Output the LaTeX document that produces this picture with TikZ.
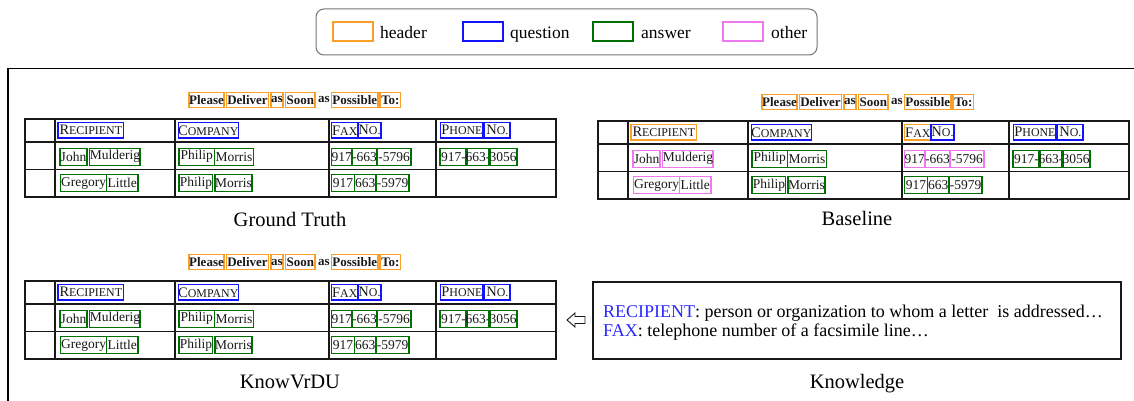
\documentclass[tikz,border=0pt]{standalone}
\usepackage{fontspec}
\setmainfont{Liberation Serif}

\definecolor{hdrC}{RGB}{250,160,40}
\definecolor{qC}{RGB}{20,20,250}
\definecolor{aC}{RGB}{0,110,0}
\definecolor{oC}{RGB}{238,120,238}
\definecolor{kwC}{RGB}{40,40,255}
\definecolor{inkC}{RGB}{25,25,25}

% scanned small caps: first letter full size, the rest smaller capitals
\newcommand\smc[2]{#1{\fontsize{11.9}{12}\selectfont#2}}

% one scanned form: ruled table, bold title line and word boxes
\newcommand\doctable{%
  \draw[rule] (25,119) rectangle (556,197);
  \draw[rule] (25,142) -- (556,142);
  \draw[rule] (25,169.5) -- (556,169.5);
  \foreach \cx in {55,175,329,436}{\draw[rule] (\cx,119) -- (\cx,197);}
  % title line
  \node[ttl,isH,minimum width=35pt]   (please)   at (206.5,100) {Please};
  \node[ttl,isH,minimum width=42pt]   (deliver)  at (247.5,100) {Deliver};
  \node[ttl,isH,minimum width=12pt]   (asA)      at (277,100)   {as};
  \node[ttl,isH,minimum width=29.5pt] (soon)     at (300.3,100) {Soon};
  \node[ttl]                          (asB)      at (323.8,100) {as};
  \node[ttl,isH,minimum width=46.4pt] (possible) at (354.8,100) {Possible};
  \node[ttl,isH,minimum width=20.7pt] (to)       at (390.4,100) {To:};
  % header row
  \node[hd,rRec,minimum width=65.6pt] (recipient) at (90.8,130.3)  {\smc{R}{ECIPIENT}};
  \node[hd,isQ,minimum width=58.5pt]  (company)   at (208.3,130.3) {\smc{C}{OMPANY}};
  \node[hd,rFax,minimum width=26.4pt] (fax)       at (344.8,130.3) {\smc{F}{AX}};
  \node[hd,isQ,minimum width=23pt]    (faxno)     at (369.5,130.3) {\smc{N}{O.}};
  \node[hd,isQ,minimum width=42.3pt]  (phone)     at (461.9,130.3) {\smc{P}{HONE}};
  \node[hd,isQ,minimum width=25.3pt]  (phoneno)   at (497.4,130.3) {\smc{N}{O.}};
  % first entry
  \node[cell,rNameA,minimum width=27pt]   (john)     at (73.5,156.7)  {John};
  \node[cell,rNameA,minimum width=50.2pt] (mulderig) at (114.9,156.7) {Mulderig};
  \node[cell,isA,minimum width=35.5pt]    (philipA)  at (196.8,156.7) {Philip};
  \node[cell,isA,minimum width=39pt]      (morrisA)  at (234,156.7)   {Morris};
  \node[cell,rFaxA,minimum width=20.4pt]  (faxA1)    at (341.8,156.7) {917};
  \node[cell,rFaxA,minimum width=23.3pt]  (faxA2)    at (364.4,156.7) {-663};
  \node[cell,rFaxA,minimum width=34pt]    (faxA3)    at (394,156.7)   {-5796};
  \node[cell,isA,minimum width=27pt]      (telA1)    at (453.5,156.7) {917-};
  \node[cell,isA,minimum width=22pt]      (telA2)    at (478,156.7)   {663-};
  \node[cell,isA,minimum width=28pt]      (telA3)    at (503,156.7)   {3056};
  % second entry
  \node[cell,rNameB,minimum width=45.8pt] (gregory)  at (83.6,183.3)  {Gregory};
  \node[cell,rNameB,minimum width=31.5pt] (little)   at (122.3,183.3) {Little};
  \node[cell,isA,minimum width=33.7pt]    (philipB)  at (195.9,183.3) {Philip};
  \node[cell,isA,minimum width=37pt]      (morrisB)  at (233.5,183.3) {Morris};
  \node[cell,isA,minimum width=22.9pt]    (faxB1)    at (343,183.3)   {917};
  \node[cell,isA,minimum width=21.5pt]    (faxB2)    at (365.3,183.3) {663};
  \node[cell,isA,minimum width=33pt]      (faxB3)    at (392.5,183.3) {-5979};
}

\begin{document}
\begin{tikzpicture}[x=1pt,y=-1pt,
  rule/.style={draw=inkC,line width=1.3pt},
  word/.style={inner sep=0pt,text=inkC,line width=1.2pt},
  ttl/.style={word,font=\fontsize{13}{14}\selectfont\bfseries,minimum height=14.6pt},
  hd/.style={word,font=\fontsize{14.5}{15}\selectfont,minimum height=15.5pt},
  cell/.style={word,font=\fontsize{13.5}{14}\selectfont,minimum height=17pt},
  isH/.style={draw=hdrC}, isQ/.style={draw=qC},
  isA/.style={draw=aC},   isO/.style={draw=oC},
  rRec/.style={isQ}, rFax/.style={isQ},
  rNameA/.style={isA}, rFaxA/.style={isA}, rNameB/.style={isA},
  swatch/.style={line width=1.5pt,minimum width=40pt,minimum height=19pt,inner sep=0pt},
  legtext/.style={anchor=base west,inner sep=0pt,font=\fontsize{17.5}{20}\selectfont},
  caption/.style={anchor=base,inner sep=0pt,font=\fontsize{20.5}{24}\selectfont},
  ktext/.style={anchor=base west,inner sep=0pt,font=\fontsize{18}{20}\selectfont}]
\useasboundingbox (0,0) rectangle (1134,401);

% legend
\node[draw=black!55,line width=1pt,rounded corners=8pt,minimum width=501pt,
      minimum height=46pt,inner sep=0pt] (legend) at (566.5,32) {};
\node[swatch,draw=hdrC] (swH) at (353,31.5) {};
\node[legtext] (lgH) at (380,38.3) {header};
\node[swatch,draw=qC]   (swQ) at (483,31.5) {};
\node[legtext] (lgQ) at (510,38.3) {question};
\node[swatch,draw=aC]   (swA) at (613,31.5) {};
\node[legtext] (lgA) at (641,38.3) {answer};
\node[swatch,draw=oC]   (swO) at (743,31.5) {};
\node[legtext] (lgO) at (771,38.3) {other};

% outer frame
\draw[line width=1.4pt,black] (8,401) -- (8,68.5) -- (1134,68.5);

% three renderings of the same form
\begin{scope}[name prefix=gt-]
  \doctable
\end{scope}
\begin{scope}[shift={(573,2)},name prefix=bl-,
  rRec/.style={isH}, rFax/.style={isH},
  rNameA/.style={isO}, rFaxA/.style={isO}, rNameB/.style={isO}]
  \doctable
\end{scope}
\begin{scope}[shift={(0,162)},name prefix=kv-]
  \doctable
\end{scope}

\node[caption] (capGT) at (290,226)   {Ground Truth};
\node[caption] (capBL) at (857,225.7) {Baseline};
\node[caption] (capKV) at (290,388.3) {KnowVrDU};

% knowledge panel
\node[draw=inkC,line width=1.3pt,minimum width=528pt,minimum height=77pt,
      inner sep=0pt] (know) at (857,320.5) {};
\node[ktext] (kline1) at (603,317.3)
  {{\color{kwC}RECIPIENT}: person or organization to whom a letter\ \ is addressed…};
\node[ktext] (kline2) at (603,336.7)
  {{\color{kwC}FAX}: telephone number of a facsimile line…};
\node[caption] (capKN) at (857,388.3) {Knowledge};

% hollow arrow pointing from the panel to the form
\draw[line width=0.9pt,inkC,fill=white]
  (567,320) -- (575,313) -- (575,316.5) -- (585,316.5) -- (585,323.5)
  -- (575,323.5) -- (575,327) -- cycle;
\end{tikzpicture}
\end{document}
